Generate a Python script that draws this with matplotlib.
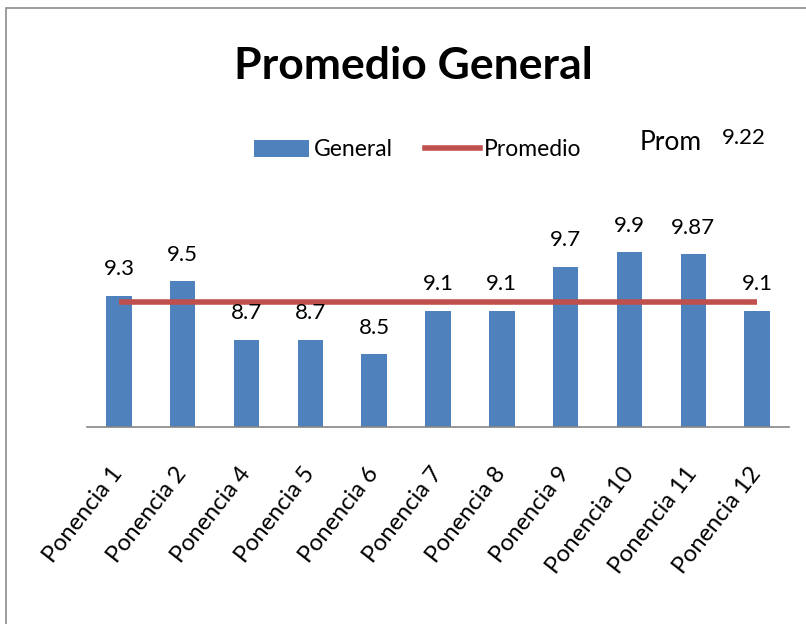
import matplotlib
matplotlib.use("Agg")
import matplotlib.pyplot as plt
from matplotlib.patches import Patch, Rectangle
from matplotlib.lines import Line2D
import numpy as np

ponencias = ['Ponencia 1', 'Ponencia 2', 'Ponencia 4', 'Ponencia 5', 'Ponencia 6',
             'Ponencia 7', 'Ponencia 8', 'Ponencia 9', 'Ponencia 10', 'Ponencia 11',
             'Ponencia 12']
general = [9.3, 9.5, 8.7, 8.7, 8.5, 9.1, 9.1, 9.7, 9.9, 9.87, 9.1]
promedio = 9.22
promedio_line = [promedio] * len(ponencias)

blue = '#4F81BD'
red = '#C0504D'

plt.rcParams['font.family'] = ['Lato', 'DejaVu Sans']

fig = plt.figure(figsize=(8.06, 6.24), dpi=100)

# marco gris del grafico
fig.patches.append(Rectangle((6 / 806, -0.1), 1.2, 1.1 - 8 / 624, transform=fig.transFigure,
                             fill=False, edgecolor='#8c8c8c', linewidth=1.2))

ax = fig.add_axes([87 / 806, 1 - 427 / 624, 702 / 806, 182 / 624])

x = np.arange(len(ponencias))
bars = ax.bar(x, general, width=0.4, color=blue, bottom=0)
ax.plot(x, promedio_line, color=red, linewidth=4, solid_capstyle='butt')

for xi, v in zip(x, general):
    ax.annotate(str(v), (xi, v), xytext=(0, 12), textcoords='offset points',
                ha='center', va='bottom', fontsize=16)

ax.set_xlim(-0.5, len(ponencias) - 0.5)
ax.set_ylim(7.5, 10)
ax.set_yticks([])
for s in ['top', 'right', 'left']:
    ax.spines[s].set_visible(False)
ax.spines['bottom'].set_color('#868686')
ax.spines['bottom'].set_linewidth(1.2)

ax.set_xticks(x)
ax.set_xticklabels(ponencias, rotation=52, ha='right', va='center',
                   rotation_mode='anchor', fontsize=17)
ax.tick_params(axis='x', length=0, pad=31)

fig.text(0.513, 1 - 66 / 624, 'Promedio General', ha='center', va='center',
         fontsize=32, fontweight='bold')

handles = [Patch(facecolor=blue, edgecolor='none'),
           Line2D([0], [0], color=red, linewidth=4)]
fig.legend(handles, ['General', 'Promedio'], loc='center', ncol=2,
           bbox_to_anchor=(418 / 806, 1 - 150 / 624), frameon=False,
           fontsize=16.5, handlelength=2.4, handletextpad=0.2, columnspacing=1.4)

fig.text(640 / 806, 1 - 143 / 624, 'Prom', ha='left', va='center', fontsize=19)
fig.text(722 / 806, 1 - 138 / 624, '9.22', ha='left', va='center', fontsize=16)

fig.savefig('out.png', dpi=100)
